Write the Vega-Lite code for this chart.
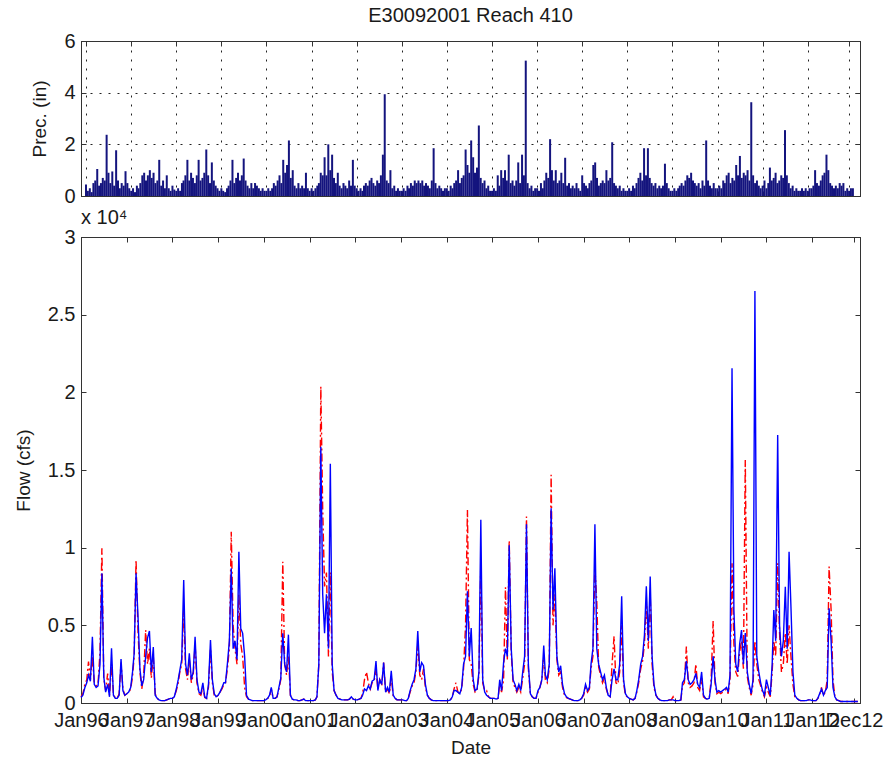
{
"$schema": "https://vega.github.io/schema/vega-lite/v6.json",
"padding": {"left": 13, "top": 5, "right": 5, "bottom": 5},
"spacing": 0,
"config": {
  "font": "Liberation Sans",
  "view": {"stroke": "#333333", "strokeWidth": 1},
  "axis": {"labelFont": "Liberation Sans", "labelFontSize": 20, "labelColor": "#1a1a1a", "titleFont": "Liberation Sans", "titleFontSize": 19, "titleFontWeight": "normal", "titleColor": "#1a1a1a", "domainColor": "#333333", "tickColor": "#333333", "tickSize": -5, "grid": false},
  "title": {"font": "Liberation Sans", "fontWeight": "normal", "color": "#1a1a1a"}
},
"data": {"values": [
{"t":"1996-01-01","p":0.45,"o":400,"s":350},
{"t":"1996-01-16","p":0.2,"o":600,"s":500},
{"t":"1996-02-01","p":0.3,"o":1200,"s":1000},
{"t":"1996-02-16","p":0.15,"o":1500,"s":1300},
{"t":"1996-03-01","p":0.5,"o":2660,"s":1800},
{"t":"1996-03-16","p":0.6,"o":1500,"s":1400},
{"t":"1996-04-01","p":1.05,"o":3000,"s":4270},
{"t":"1996-04-16","p":0.4,"o":1300,"s":1200},
{"t":"1996-05-01","p":0.5,"o":1100,"s":1000},
{"t":"1996-05-16","p":0.7,"o":1200,"s":1100},
{"t":"1996-06-01","p":0.6,"o":3300,"s":2500},
{"t":"1996-06-16","p":2.37,"o":9960,"s":8350},
{"t":"1996-07-01","p":0.9,"o":1600,"s":1700},
{"t":"1996-07-16","p":0.5,"o":800,"s":700},
{"t":"1996-08-01","p":0.95,"o":1900,"s":1200},
{"t":"1996-08-16","p":0.4,"o":500,"s":400},
{"t":"1996-09-01","p":1.77,"o":2500,"s":3520},
{"t":"1996-09-16","p":0.6,"o":600,"s":500},
{"t":"1996-10-01","p":0.3,"o":300,"s":300},
{"t":"1996-10-16","p":0.5,"o":300,"s":300},
{"t":"1996-11-01","p":0.4,"o":600,"s":500},
{"t":"1996-11-16","p":0.96,"o":2600,"s":2830},
{"t":"1996-12-01","p":0.5,"o":900,"s":800},
{"t":"1996-12-16","p":0.3,"o":500,"s":500},
{"t":"1997-01-01","p":0.2,"o":600,"s":600},
{"t":"1997-01-16","p":0.3,"o":700,"s":700},
{"t":"1997-02-01","p":0.15,"o":900,"s":1000},
{"t":"1997-02-16","p":0.4,"o":1700,"s":2000},
{"t":"1997-03-01","p":0.3,"o":3000,"s":3200},
{"t":"1997-03-16","p":0.5,"o":9210,"s":8350},
{"t":"1997-04-01","p":0.8,"o":4500,"s":5500},
{"t":"1997-04-16","p":0.9,"o":2000,"s":2200},
{"t":"1997-05-01","p":0.6,"o":900,"s":1100},
{"t":"1997-05-16","p":0.8,"o":1800,"s":1500},
{"t":"1997-06-01","p":1.0,"o":4700,"s":3000},
{"t":"1997-06-16","p":0.7,"o":2500,"s":4200},
{"t":"1997-07-01","p":0.9,"o":3500,"s":4640},
{"t":"1997-07-16","p":0.5,"o":1600,"s":2000},
{"t":"1997-08-01","p":0.6,"o":3000,"s":3600},
{"t":"1997-08-16","p":1.4,"o":600,"s":500},
{"t":"1997-09-01","p":0.4,"o":300,"s":300},
{"t":"1997-09-16","p":0.6,"o":200,"s":200},
{"t":"1997-10-01","p":0.3,"o":150,"s":150},
{"t":"1997-10-16","p":0.8,"o":150,"s":150},
{"t":"1997-11-01","p":0.3,"o":150,"s":150},
{"t":"1997-11-16","p":0.2,"o":200,"s":200},
{"t":"1997-12-01","p":0.4,"o":250,"s":250},
{"t":"1997-12-16","p":0.25,"o":300,"s":300},
{"t":"1998-01-01","p":0.2,"o":300,"s":300},
{"t":"1998-01-16","p":0.3,"o":400,"s":400},
{"t":"1998-02-01","p":0.2,"o":800,"s":900},
{"t":"1998-02-16","p":0.5,"o":1300,"s":1500},
{"t":"1998-03-01","p":0.6,"o":2000,"s":2100},
{"t":"1998-03-16","p":0.8,"o":2500,"s":2800},
{"t":"1998-04-01","p":1.4,"o":6000,"s":7920},
{"t":"1998-04-16","p":0.6,"o":2200,"s":2500},
{"t":"1998-05-01","p":0.9,"o":1500,"s":1800},
{"t":"1998-05-16","p":0.7,"o":2800,"s":3200},
{"t":"1998-06-01","p":0.5,"o":1300,"s":1500},
{"t":"1998-06-16","p":0.8,"o":1800,"s":2000},
{"t":"1998-07-01","p":1.4,"o":3800,"s":4270},
{"t":"1998-07-16","p":0.6,"o":1300,"s":1500},
{"t":"1998-08-01","p":0.7,"o":600,"s":700},
{"t":"1998-08-16","p":0.9,"o":500,"s":600},
{"t":"1998-09-01","p":1.8,"o":1000,"s":1300},
{"t":"1998-09-16","p":0.8,"o":350,"s":400},
{"t":"1998-10-01","p":0.5,"o":300,"s":300},
{"t":"1998-10-16","p":1.3,"o":1000,"s":1200},
{"t":"1998-11-01","p":0.6,"o":3500,"s":4060},
{"t":"1998-11-16","p":0.4,"o":1300,"s":1500},
{"t":"1998-12-01","p":0.3,"o":500,"s":600},
{"t":"1998-12-16","p":0.2,"o":400,"s":400},
{"t":"1999-01-01","p":0.3,"o":500,"s":500},
{"t":"1999-01-16","p":0.2,"o":700,"s":700},
{"t":"1999-02-01","p":0.15,"o":900,"s":1000},
{"t":"1999-02-16","p":0.3,"o":1200,"s":1300},
{"t":"1999-03-01","p":0.4,"o":1300,"s":1300},
{"t":"1999-03-16","p":0.6,"o":2200,"s":2500},
{"t":"1999-04-01","p":1.4,"o":3500,"s":4000},
{"t":"1999-04-16","p":0.5,"o":11030,"s":8670},
{"t":"1999-05-01","p":0.7,"o":5000,"s":3500},
{"t":"1999-05-16","p":0.9,"o":3500,"s":4000},
{"t":"1999-06-01","p":0.6,"o":2500,"s":2800},
{"t":"1999-06-16","p":0.8,"o":7000,"s":9740},
{"t":"1999-07-01","p":1.45,"o":3800,"s":4800},
{"t":"1999-07-16","p":0.6,"o":3000,"s":4500},
{"t":"1999-08-01","p":0.4,"o":1000,"s":3000},
{"t":"1999-08-16","p":0.3,"o":400,"s":500},
{"t":"1999-09-01","p":0.5,"o":250,"s":250},
{"t":"1999-09-16","p":0.3,"o":200,"s":200},
{"t":"1999-10-01","p":0.5,"o":150,"s":150},
{"t":"1999-10-16","p":0.4,"o":150,"s":150},
{"t":"1999-11-01","p":0.3,"o":150,"s":150},
{"t":"1999-11-16","p":0.2,"o":150,"s":150},
{"t":"1999-12-01","p":0.3,"o":150,"s":150},
{"t":"1999-12-16","p":0.2,"o":150,"s":150},
{"t":"2000-01-01","p":0.2,"o":150,"s":150},
{"t":"2000-01-16","p":0.3,"o":200,"s":200},
{"t":"2000-02-01","p":0.2,"o":300,"s":300},
{"t":"2000-02-16","p":0.3,"o":400,"s":500},
{"t":"2000-03-01","p":0.5,"o":900,"s":1000},
{"t":"2000-03-16","p":0.4,"o":300,"s":300},
{"t":"2000-04-01","p":0.6,"o":300,"s":300},
{"t":"2000-04-16","p":0.8,"o":400,"s":400},
{"t":"2000-05-01","p":0.5,"o":900,"s":1000},
{"t":"2000-05-16","p":1.4,"o":1500,"s":1600},
{"t":"2000-06-01","p":0.9,"o":9100,"s":4490},
{"t":"2000-06-16","p":1.2,"o":2500,"s":2500},
{"t":"2000-07-01","p":2.15,"o":1800,"s":2000},
{"t":"2000-07-16","p":0.7,"o":3000,"s":4400},
{"t":"2000-08-01","p":1.0,"o":500,"s":500},
{"t":"2000-08-16","p":0.4,"o":250,"s":250},
{"t":"2000-09-01","p":0.3,"o":200,"s":200},
{"t":"2000-09-16","p":0.5,"o":200,"s":200},
{"t":"2000-10-01","p":0.3,"o":150,"s":150},
{"t":"2000-10-16","p":0.4,"o":150,"s":150},
{"t":"2000-11-01","p":0.3,"o":200,"s":200},
{"t":"2000-11-16","p":0.9,"o":250,"s":250},
{"t":"2000-12-01","p":0.3,"o":150,"s":150},
{"t":"2000-12-16","p":0.2,"o":150,"s":150},
{"t":"2001-01-01","p":0.3,"o":150,"s":150},
{"t":"2001-01-16","p":0.2,"o":150,"s":150},
{"t":"2001-02-01","p":0.3,"o":150,"s":150},
{"t":"2001-02-16","p":0.4,"o":200,"s":200},
{"t":"2001-03-01","p":0.5,"o":400,"s":400},
{"t":"2001-03-16","p":0.9,"o":2500,"s":2500},
{"t":"2001-04-01","p":0.8,"o":20370,"s":16500},
{"t":"2001-04-16","p":1.5,"o":12500,"s":7000},
{"t":"2001-05-01","p":0.8,"o":7500,"s":4500},
{"t":"2001-05-16","p":2.0,"o":8400,"s":7000},
{"t":"2001-06-01","p":1.0,"o":3000,"s":3500},
{"t":"2001-06-16","p":1.6,"o":8400,"s":15400},
{"t":"2001-07-01","p":0.7,"o":2000,"s":2500},
{"t":"2001-07-16","p":0.5,"o":800,"s":800},
{"t":"2001-08-01","p":0.9,"o":500,"s":500},
{"t":"2001-08-16","p":0.4,"o":300,"s":300},
{"t":"2001-09-01","p":0.3,"o":250,"s":250},
{"t":"2001-09-16","p":0.5,"o":200,"s":200},
{"t":"2001-10-01","p":0.4,"o":200,"s":200},
{"t":"2001-10-16","p":0.3,"o":200,"s":200},
{"t":"2001-11-01","p":0.6,"o":200,"s":200},
{"t":"2001-11-16","p":0.4,"o":250,"s":250},
{"t":"2001-12-01","p":1.4,"o":400,"s":400},
{"t":"2001-12-16","p":0.4,"o":250,"s":250},
{"t":"2002-01-01","p":0.3,"o":200,"s":200},
{"t":"2002-01-16","p":0.2,"o":200,"s":200},
{"t":"2002-02-01","p":0.3,"o":250,"s":250},
{"t":"2002-02-16","p":0.2,"o":300,"s":300},
{"t":"2002-03-01","p":0.4,"o":600,"s":500},
{"t":"2002-03-16","p":0.5,"o":1500,"s":900},
{"t":"2002-04-01","p":0.4,"o":2000,"s":800},
{"t":"2002-04-16","p":0.6,"o":1300,"s":1100},
{"t":"2002-05-01","p":0.7,"o":900,"s":900},
{"t":"2002-05-16","p":0.5,"o":1300,"s":1400},
{"t":"2002-06-01","p":0.4,"o":1400,"s":1500},
{"t":"2002-06-16","p":0.6,"o":2200,"s":2700},
{"t":"2002-07-01","p":0.5,"o":900,"s":800},
{"t":"2002-07-16","p":0.8,"o":1500,"s":1500},
{"t":"2002-08-01","p":1.6,"o":1100,"s":1200},
{"t":"2002-08-16","p":3.94,"o":2600,"s":2600},
{"t":"2002-09-01","p":0.6,"o":700,"s":700},
{"t":"2002-09-16","p":0.5,"o":900,"s":1000},
{"t":"2002-10-01","p":1.0,"o":600,"s":700},
{"t":"2002-10-16","p":0.3,"o":1700,"s":2080},
{"t":"2002-11-01","p":0.4,"o":400,"s":500},
{"t":"2002-11-16","p":0.2,"o":300,"s":300},
{"t":"2002-12-01","p":0.3,"o":200,"s":200},
{"t":"2002-12-16","p":0.2,"o":200,"s":200},
{"t":"2003-01-01","p":0.2,"o":200,"s":200},
{"t":"2003-01-16","p":0.3,"o":200,"s":200},
{"t":"2003-02-01","p":0.2,"o":150,"s":150},
{"t":"2003-02-16","p":0.4,"o":150,"s":150},
{"t":"2003-03-01","p":0.3,"o":300,"s":300},
{"t":"2003-03-16","p":0.5,"o":700,"s":800},
{"t":"2003-04-01","p":0.4,"o":1100,"s":1200},
{"t":"2003-04-16","p":0.6,"o":1300,"s":1500},
{"t":"2003-05-01","p":0.5,"o":2000,"s":2200},
{"t":"2003-05-16","p":0.6,"o":3800,"s":4640},
{"t":"2003-06-01","p":0.5,"o":1800,"s":2000},
{"t":"2003-06-16","p":0.6,"o":1500,"s":2600},
{"t":"2003-07-01","p":0.4,"o":2200,"s":2400},
{"t":"2003-07-16","p":0.5,"o":1000,"s":1200},
{"t":"2003-08-01","p":0.4,"o":500,"s":500},
{"t":"2003-08-16","p":0.3,"o":300,"s":300},
{"t":"2003-09-01","p":0.6,"o":200,"s":200},
{"t":"2003-09-16","p":1.85,"o":150,"s":150},
{"t":"2003-10-01","p":0.5,"o":150,"s":150},
{"t":"2003-10-16","p":0.3,"o":150,"s":150},
{"t":"2003-11-01","p":0.4,"o":150,"s":150},
{"t":"2003-11-16","p":0.3,"o":150,"s":150},
{"t":"2003-12-01","p":0.2,"o":150,"s":150},
{"t":"2003-12-16","p":0.3,"o":150,"s":150},
{"t":"2004-01-01","p":0.3,"o":150,"s":150},
{"t":"2004-01-16","p":0.2,"o":150,"s":150},
{"t":"2004-02-01","p":0.4,"o":200,"s":200},
{"t":"2004-02-16","p":0.3,"o":400,"s":400},
{"t":"2004-03-01","p":0.5,"o":900,"s":800},
{"t":"2004-03-16","p":0.6,"o":1300,"s":800},
{"t":"2004-04-01","p":1.0,"o":700,"s":700},
{"t":"2004-04-16","p":0.5,"o":600,"s":600},
{"t":"2004-05-01","p":0.7,"o":900,"s":1000},
{"t":"2004-05-16","p":0.8,"o":2200,"s":2500},
{"t":"2004-06-01","p":1.8,"o":5000,"s":3000},
{"t":"2004-06-16","p":1.2,"o":12430,"s":7200},
{"t":"2004-07-01","p":0.9,"o":2800,"s":3000},
{"t":"2004-07-16","p":2.15,"o":2500,"s":4830},
{"t":"2004-08-01","p":1.5,"o":1200,"s":1500},
{"t":"2004-08-16","p":0.9,"o":700,"s":800},
{"t":"2004-09-01","p":1.1,"o":800,"s":900},
{"t":"2004-09-16","p":2.73,"o":1800,"s":2000},
{"t":"2004-10-01","p":0.7,"o":9000,"s":11790},
{"t":"2004-10-16","p":0.5,"o":1300,"s":1500},
{"t":"2004-11-01","p":0.6,"o":800,"s":700},
{"t":"2004-11-16","p":0.3,"o":800,"s":500},
{"t":"2004-12-01","p":0.4,"o":400,"s":400},
{"t":"2004-12-16","p":0.2,"o":300,"s":300},
{"t":"2005-01-01","p":0.2,"o":300,"s":300},
{"t":"2005-01-16","p":0.3,"o":300,"s":300},
{"t":"2005-02-01","p":0.2,"o":250,"s":250},
{"t":"2005-02-16","p":0.8,"o":300,"s":300},
{"t":"2005-03-01","p":0.4,"o":1200,"s":1500},
{"t":"2005-03-16","p":1.0,"o":700,"s":800},
{"t":"2005-04-01","p":0.7,"o":1500,"s":2600},
{"t":"2005-04-16","p":1.0,"o":7450,"s":3500},
{"t":"2005-05-01","p":0.6,"o":2800,"s":3000},
{"t":"2005-05-16","p":1.6,"o":10450,"s":10150},
{"t":"2005-06-01","p":0.5,"o":3200,"s":3500},
{"t":"2005-06-16","p":0.6,"o":1300,"s":1500},
{"t":"2005-07-01","p":0.4,"o":1000,"s":1200},
{"t":"2005-07-16","p":0.6,"o":700,"s":800},
{"t":"2005-08-01","p":1.3,"o":1000,"s":1200},
{"t":"2005-08-16","p":0.5,"o":700,"s":800},
{"t":"2005-09-01","p":1.6,"o":1600,"s":2000},
{"t":"2005-09-16","p":0.8,"o":2500,"s":3000},
{"t":"2005-10-01","p":5.24,"o":12000,"s":11500},
{"t":"2005-10-16","p":0.5,"o":2200,"s":2500},
{"t":"2005-11-01","p":0.3,"o":600,"s":600},
{"t":"2005-11-16","p":0.4,"o":400,"s":400},
{"t":"2005-12-01","p":0.2,"o":300,"s":300},
{"t":"2005-12-16","p":0.3,"o":300,"s":300},
{"t":"2006-01-01","p":0.3,"o":700,"s":800},
{"t":"2006-01-16","p":0.2,"o":1000,"s":1000},
{"t":"2006-02-01","p":0.5,"o":1500,"s":1500},
{"t":"2006-02-16","p":0.3,"o":3000,"s":3700},
{"t":"2006-03-01","p":0.6,"o":1500,"s":1800},
{"t":"2006-03-16","p":0.9,"o":1300,"s":1500},
{"t":"2006-04-01","p":0.7,"o":2200,"s":2500},
{"t":"2006-04-16","p":2.2,"o":14690,"s":12540},
{"t":"2006-05-01","p":1.0,"o":5000,"s":6000},
{"t":"2006-05-16","p":0.6,"o":7000,"s":8670},
{"t":"2006-06-01","p":1.0,"o":2800,"s":3000},
{"t":"2006-06-16","p":0.5,"o":1800,"s":2000},
{"t":"2006-07-01","p":0.6,"o":2000,"s":2400},
{"t":"2006-07-16","p":0.9,"o":1000,"s":1200},
{"t":"2006-08-01","p":0.5,"o":500,"s":600},
{"t":"2006-08-16","p":1.48,"o":350,"s":400},
{"t":"2006-09-01","p":0.4,"o":300,"s":300},
{"t":"2006-09-16","p":0.5,"o":250,"s":250},
{"t":"2006-10-01","p":0.3,"o":200,"s":200},
{"t":"2006-10-16","p":0.4,"o":150,"s":150},
{"t":"2006-11-01","p":0.3,"o":150,"s":150},
{"t":"2006-11-16","p":0.5,"o":150,"s":150},
{"t":"2006-12-01","p":0.3,"o":200,"s":200},
{"t":"2006-12-16","p":0.2,"o":300,"s":300},
{"t":"2007-01-01","p":0.8,"o":500,"s":600},
{"t":"2007-01-16","p":0.5,"o":1000,"s":1200},
{"t":"2007-02-01","p":0.4,"o":700,"s":800},
{"t":"2007-02-16","p":0.3,"o":900,"s":1000},
{"t":"2007-03-01","p":0.5,"o":2200,"s":2500},
{"t":"2007-03-16","p":0.6,"o":3000,"s":3500},
{"t":"2007-04-01","p":1.2,"o":8700,"s":11500},
{"t":"2007-04-16","p":1.3,"o":6500,"s":3500},
{"t":"2007-05-01","p":0.7,"o":2300,"s":2500},
{"t":"2007-05-16","p":0.4,"o":1800,"s":2000},
{"t":"2007-06-01","p":0.5,"o":1300,"s":1500},
{"t":"2007-06-16","p":0.6,"o":1600,"s":1800},
{"t":"2007-07-01","p":0.5,"o":900,"s":1000},
{"t":"2007-07-16","p":1.0,"o":500,"s":500},
{"t":"2007-08-01","p":0.6,"o":400,"s":400},
{"t":"2007-08-16","p":0.7,"o":2500,"s":1500},
{"t":"2007-09-01","p":2.08,"o":4290,"s":2200},
{"t":"2007-09-16","p":0.5,"o":1300,"s":1500},
{"t":"2007-10-01","p":0.4,"o":1200,"s":1500},
{"t":"2007-10-16","p":0.3,"o":2000,"s":2500},
{"t":"2007-11-01","p":0.4,"o":5000,"s":6870},
{"t":"2007-11-16","p":0.2,"o":1300,"s":1500},
{"t":"2007-12-01","p":0.3,"o":500,"s":600},
{"t":"2007-12-16","p":0.2,"o":400,"s":400},
{"t":"2008-01-01","p":0.2,"o":300,"s":300},
{"t":"2008-01-16","p":0.3,"o":250,"s":250},
{"t":"2008-02-01","p":0.2,"o":200,"s":200},
{"t":"2008-02-16","p":0.4,"o":300,"s":300},
{"t":"2008-03-01","p":0.3,"o":700,"s":800},
{"t":"2008-03-16","p":0.5,"o":1300,"s":1500},
{"t":"2008-04-01","p":0.7,"o":2200,"s":2500},
{"t":"2008-04-16","p":0.9,"o":2700,"s":3000},
{"t":"2008-05-01","p":0.6,"o":3800,"s":4380},
{"t":"2008-05-16","p":1.85,"o":6500,"s":7510},
{"t":"2008-06-01","p":0.8,"o":3500,"s":4000},
{"t":"2008-06-16","p":1.85,"o":7000,"s":8150},
{"t":"2008-07-01","p":0.7,"o":2500,"s":3000},
{"t":"2008-07-16","p":0.5,"o":1000,"s":1200},
{"t":"2008-08-01","p":0.4,"o":500,"s":500},
{"t":"2008-08-16","p":0.5,"o":300,"s":300},
{"t":"2008-09-01","p":0.3,"o":200,"s":200},
{"t":"2008-09-16","p":0.4,"o":150,"s":150},
{"t":"2008-10-01","p":0.3,"o":150,"s":150},
{"t":"2008-10-16","p":0.4,"o":150,"s":150},
{"t":"2008-11-01","p":1.25,"o":150,"s":150},
{"t":"2008-11-16","p":0.5,"o":200,"s":200},
{"t":"2008-12-01","p":0.3,"o":200,"s":200},
{"t":"2008-12-16","p":0.2,"o":400,"s":200},
{"t":"2009-01-01","p":0.2,"o":150,"s":150},
{"t":"2009-01-16","p":0.3,"o":150,"s":150},
{"t":"2009-02-01","p":0.2,"o":150,"s":150},
{"t":"2009-02-16","p":0.3,"o":200,"s":200},
{"t":"2009-03-01","p":0.4,"o":1100,"s":1300},
{"t":"2009-03-16","p":0.5,"o":1300,"s":1500},
{"t":"2009-04-01","p":0.4,"o":3630,"s":2700},
{"t":"2009-04-16","p":0.6,"o":1300,"s":1500},
{"t":"2009-05-01","p":0.8,"o":1000,"s":1200},
{"t":"2009-05-16","p":0.7,"o":1100,"s":1300},
{"t":"2009-06-01","p":0.9,"o":1300,"s":1500},
{"t":"2009-06-16","p":0.6,"o":2500,"s":1900},
{"t":"2009-07-01","p":0.5,"o":1000,"s":1200},
{"t":"2009-07-16","p":0.4,"o":800,"s":1000},
{"t":"2009-08-01","p":0.5,"o":1600,"s":2000},
{"t":"2009-08-16","p":0.3,"o":400,"s":500},
{"t":"2009-09-01","p":0.6,"o":300,"s":300},
{"t":"2009-09-16","p":0.4,"o":250,"s":250},
{"t":"2009-10-01","p":2.15,"o":300,"s":300},
{"t":"2009-10-16","p":0.6,"o":1500,"s":1200},
{"t":"2009-11-01","p":0.4,"o":5280,"s":3000},
{"t":"2009-11-16","p":0.3,"o":1300,"s":1500},
{"t":"2009-12-01","p":0.5,"o":600,"s":700},
{"t":"2009-12-16","p":0.3,"o":700,"s":800},
{"t":"2010-01-01","p":0.3,"o":600,"s":700},
{"t":"2010-01-16","p":0.4,"o":700,"s":800},
{"t":"2010-02-01","p":0.3,"o":800,"s":900},
{"t":"2010-02-16","p":0.6,"o":900,"s":1000},
{"t":"2010-03-01","p":0.5,"o":600,"s":700},
{"t":"2010-03-16","p":0.8,"o":1500,"s":1800},
{"t":"2010-04-01","p":0.9,"o":9000,"s":21550},
{"t":"2010-04-16","p":0.5,"o":3800,"s":6000},
{"t":"2010-05-01","p":0.7,"o":2000,"s":2500},
{"t":"2010-05-16","p":0.6,"o":1700,"s":2000},
{"t":"2010-06-01","p":1.2,"o":3300,"s":3800},
{"t":"2010-06-16","p":0.8,"o":4000,"s":4700},
{"t":"2010-07-01","p":1.55,"o":2200,"s":2500},
{"t":"2010-07-16","p":0.7,"o":15650,"s":4500},
{"t":"2010-08-01","p":0.9,"o":1700,"s":2000},
{"t":"2010-08-16","p":0.8,"o":1000,"s":1200},
{"t":"2010-09-01","p":1.0,"o":500,"s":600},
{"t":"2010-09-16","p":0.6,"o":1200,"s":1500},
{"t":"2010-10-01","p":3.63,"o":4000,"s":26530},
{"t":"2010-10-16","p":0.8,"o":2500,"s":3000},
{"t":"2010-11-01","p":0.5,"o":1500,"s":2000},
{"t":"2010-11-16","p":0.6,"o":1100,"s":1300},
{"t":"2010-12-01","p":0.4,"o":700,"s":800},
{"t":"2010-12-16","p":0.3,"o":400,"s":500},
{"t":"2011-01-01","p":0.4,"o":1000,"s":1500},
{"t":"2011-01-16","p":0.6,"o":700,"s":1000},
{"t":"2011-02-01","p":0.3,"o":400,"s":500},
{"t":"2011-02-16","p":0.5,"o":2000,"s":2500},
{"t":"2011-03-01","p":1.1,"o":4000,"s":5990},
{"t":"2011-03-16","p":0.6,"o":3000,"s":4000},
{"t":"2011-04-01","p":0.7,"o":9000,"s":17260},
{"t":"2011-04-16","p":0.9,"o":4500,"s":5000},
{"t":"2011-05-01","p":0.5,"o":2000,"s":3000},
{"t":"2011-05-16","p":0.6,"o":2500,"s":4000},
{"t":"2011-06-01","p":0.8,"o":4500,"s":7490},
{"t":"2011-06-16","p":0.7,"o":2500,"s":3500},
{"t":"2011-07-01","p":2.55,"o":5000,"s":9740},
{"t":"2011-07-16","p":0.8,"o":3000,"s":6200},
{"t":"2011-08-01","p":0.5,"o":1200,"s":2000},
{"t":"2011-08-16","p":0.3,"o":400,"s":500},
{"t":"2011-09-01","p":0.4,"o":300,"s":300},
{"t":"2011-09-16","p":0.2,"o":200,"s":200},
{"t":"2011-10-01","p":0.3,"o":150,"s":150},
{"t":"2011-10-16","p":0.2,"o":150,"s":150},
{"t":"2011-11-01","p":0.2,"o":150,"s":150},
{"t":"2011-11-16","p":0.3,"o":150,"s":150},
{"t":"2011-12-01","p":0.2,"o":200,"s":200},
{"t":"2011-12-16","p":0.3,"o":200,"s":200},
{"t":"2012-01-01","p":0.2,"o":150,"s":150},
{"t":"2012-01-16","p":0.3,"o":150,"s":150},
{"t":"2012-02-01","p":0.3,"o":150,"s":150},
{"t":"2012-02-16","p":0.4,"o":300,"s":300},
{"t":"2012-03-01","p":1.0,"o":500,"s":600},
{"t":"2012-03-16","p":0.5,"o":1000,"s":900},
{"t":"2012-04-01","p":0.4,"o":500,"s":500},
{"t":"2012-04-16","p":0.6,"o":700,"s":800},
{"t":"2012-05-01","p":0.8,"o":1500,"s":1000},
{"t":"2012-05-16","p":0.9,"o":8780,"s":6100},
{"t":"2012-06-01","p":1.6,"o":6000,"s":4000},
{"t":"2012-06-16","p":1.0,"o":1500,"s":1000},
{"t":"2012-07-01","p":0.5,"o":400,"s":400},
{"t":"2012-07-16","p":0.4,"o":200,"s":200},
{"t":"2012-08-01","p":0.3,"o":150,"s":150},
{"t":"2012-08-16","p":0.4,"o":100,"s":100},
{"t":"2012-09-01","p":0.3,"o":100,"s":100},
{"t":"2012-09-16","p":0.5,"o":100,"s":100},
{"t":"2012-10-01","p":0.4,"o":100,"s":100},
{"t":"2012-10-16","p":0.5,"o":100,"s":100},
{"t":"2012-11-01","p":0.2,"o":100,"s":100},
{"t":"2012-11-16","p":0.3,"o":100,"s":100},
{"t":"2012-12-01","p":0.2,"o":100,"s":100},
{"t":"2012-12-16","p":0.3,"o":100,"s":100},
{"t":"2013-01-01","p":0.3,"o":100,"s":100}
]},
"vconcat": [
{
  "width": 779, "height": 155,
  "title": {"text": "E30092001 Reach 410", "fontSize": 20, "frame": "group", "anchor": "middle", "offset": 5},
  "layer": [
    {
      "mark": {"type": "bar", "color": "#14147e", "width": 2, "clip": true},
      "encoding": {
        "x": {"field": "t", "type": "temporal",
          "scale": {"type": "utc", "domain": [{"year":1996,"month":1,"date":1,"utc":true},{"year":2013,"month":1,"date":18,"utc":true}]},
          "axis": {"orient": "bottom", "labels": false, "title": null, "grid": true, "gridDash": [2, 7], "gridColor": "#222222", "gridOpacity": 1,
            "values": [{"year":1996,"month":1,"date":1,"utc":true},{"year":1997,"month":1,"date":1,"utc":true},{"year":1998,"month":1,"date":1,"utc":true},{"year":1999,"month":1,"date":1,"utc":true},{"year":2000,"month":1,"date":1,"utc":true},{"year":2001,"month":1,"date":1,"utc":true},{"year":2002,"month":1,"date":1,"utc":true},{"year":2003,"month":1,"date":1,"utc":true},{"year":2004,"month":1,"date":1,"utc":true},{"year":2005,"month":1,"date":1,"utc":true},{"year":2006,"month":1,"date":1,"utc":true},{"year":2007,"month":1,"date":1,"utc":true},{"year":2008,"month":1,"date":1,"utc":true},{"year":2009,"month":1,"date":1,"utc":true},{"year":2010,"month":1,"date":1,"utc":true},{"year":2011,"month":1,"date":1,"utc":true},{"year":2012,"month":1,"date":1,"utc":true},{"year":2012,"month":12,"date":1,"utc":true}]}},
        "y": {"field": "p", "type": "quantitative", "scale": {"domain": [0, 6], "nice": false},
          "axis": {"values": [0, 2, 4, 6], "grid": true, "gridDash": [2, 7], "gridColor": "#222222", "gridOpacity": 1, "labelPadding": 11, "minExtent": 22, "maxExtent": 22, "title": "Prec. (in)", "titlePadding": 10}}
      }
    },
    {
      "mark": {"type": "bar", "opacity": 0, "width": 1},
      "encoding": {
        "x": {"field": "t", "type": "temporal",
          "axis": {"orient": "top", "labels": false, "title": null,
            "values": [{"year":1996,"month":1,"date":1,"utc":true},{"year":1997,"month":1,"date":1,"utc":true},{"year":1998,"month":1,"date":1,"utc":true},{"year":1999,"month":1,"date":1,"utc":true},{"year":2000,"month":1,"date":1,"utc":true},{"year":2001,"month":1,"date":1,"utc":true},{"year":2002,"month":1,"date":1,"utc":true},{"year":2003,"month":1,"date":1,"utc":true},{"year":2004,"month":1,"date":1,"utc":true},{"year":2005,"month":1,"date":1,"utc":true},{"year":2006,"month":1,"date":1,"utc":true},{"year":2007,"month":1,"date":1,"utc":true},{"year":2008,"month":1,"date":1,"utc":true},{"year":2009,"month":1,"date":1,"utc":true},{"year":2010,"month":1,"date":1,"utc":true},{"year":2011,"month":1,"date":1,"utc":true},{"year":2012,"month":1,"date":1,"utc":true},{"year":2012,"month":12,"date":1,"utc":true}]}},
        "y": {"field": "p", "type": "quantitative",
          "axis": {"orient": "right", "values": [0, 2, 4, 6], "labels": false, "title": null}}
      }
    }
  ],
  "resolve": {"axis": {"x": "independent", "y": "independent"}}
},
{
  "width": 779, "height": 466,
  "title": {"text": "x 10⁴", "fontSize": 20, "frame": "group", "anchor": "start", "offset": -1},
  "layer": [
    {
      "mark": {"type": "line", "color": "#ff0000", "strokeWidth": 1.4, "strokeDash": [8, 3, 2, 3]},
      "encoding": {
        "x": {"field": "t", "type": "temporal",
          "scale": {"type": "utc", "domain": [{"year":1996,"month":1,"date":1,"utc":true},{"year":2013,"month":1,"date":18,"utc":true}]},
          "axis": {"orient": "bottom", "format": "%b%y", "labelOverlap": false, "labelFlush": false, "labelPadding": 12, "minExtent": 25, "maxExtent": 25, "title": "Date", "titlePadding": 10,
            "values": [{"year":1996,"month":1,"date":1,"utc":true},{"year":1997,"month":1,"date":1,"utc":true},{"year":1998,"month":1,"date":1,"utc":true},{"year":1999,"month":1,"date":1,"utc":true},{"year":2000,"month":1,"date":1,"utc":true},{"year":2001,"month":1,"date":1,"utc":true},{"year":2002,"month":1,"date":1,"utc":true},{"year":2003,"month":1,"date":1,"utc":true},{"year":2004,"month":1,"date":1,"utc":true},{"year":2005,"month":1,"date":1,"utc":true},{"year":2006,"month":1,"date":1,"utc":true},{"year":2007,"month":1,"date":1,"utc":true},{"year":2008,"month":1,"date":1,"utc":true},{"year":2009,"month":1,"date":1,"utc":true},{"year":2010,"month":1,"date":1,"utc":true},{"year":2011,"month":1,"date":1,"utc":true},{"year":2012,"month":1,"date":1,"utc":true},{"year":2012,"month":12,"date":1,"utc":true}]}},
        "y": {"field": "o", "type": "quantitative", "scale": {"domain": [0, 30000], "nice": false},
          "axis": {"values": [0, 5000, 10000, 15000, 20000, 25000, 30000], "labelExpr": "format(datum.value/10000, '~g')", "labelPadding": 11, "minExtent": 38, "maxExtent": 38, "title": "Flow (cfs)", "titlePadding": 10}}
      }
    },
    {
      "mark": {"type": "line", "color": "#0000ff", "strokeWidth": 1.4},
      "encoding": {
        "x": {"field": "t", "type": "temporal",
          "axis": {"orient": "top", "labels": false, "title": null,
            "values": [{"year":1996,"month":1,"date":1,"utc":true},{"year":1997,"month":1,"date":1,"utc":true},{"year":1998,"month":1,"date":1,"utc":true},{"year":1999,"month":1,"date":1,"utc":true},{"year":2000,"month":1,"date":1,"utc":true},{"year":2001,"month":1,"date":1,"utc":true},{"year":2002,"month":1,"date":1,"utc":true},{"year":2003,"month":1,"date":1,"utc":true},{"year":2004,"month":1,"date":1,"utc":true},{"year":2005,"month":1,"date":1,"utc":true},{"year":2006,"month":1,"date":1,"utc":true},{"year":2007,"month":1,"date":1,"utc":true},{"year":2008,"month":1,"date":1,"utc":true},{"year":2009,"month":1,"date":1,"utc":true},{"year":2010,"month":1,"date":1,"utc":true},{"year":2011,"month":1,"date":1,"utc":true},{"year":2012,"month":1,"date":1,"utc":true},{"year":2012,"month":12,"date":1,"utc":true}]}},
        "y": {"field": "s", "type": "quantitative",
          "axis": {"orient": "right", "values": [0, 5000, 10000, 15000, 20000, 25000, 30000], "labels": false, "title": null}}
      }
    }
  ],
  "resolve": {"axis": {"x": "independent", "y": "independent"}}
}
]
}
